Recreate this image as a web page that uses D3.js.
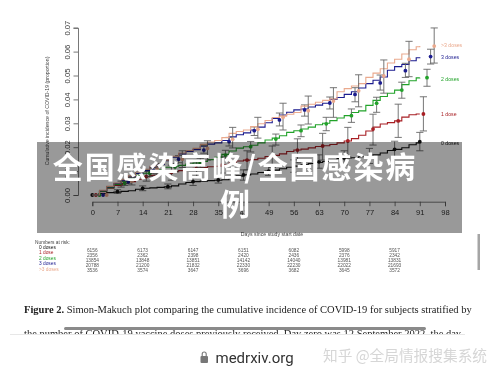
<!DOCTYPE html>
<html>
<head>
<meta charset="utf-8">
<script src="https://cdn.jsdelivr.net/npm/d3@7"></script>
<style>
  html, body { margin: 0; padding: 0; background: #fff; }
  svg { display: block; }
  .soft { filter: blur(0.65px); }
  .softer { filter: blur(0.4px); }
</style>
</head>
<body>
<div id="chart"></div>
<script>
// tick labels
const xTicks = [0, 7, 14, 21, 28, 35, 42, 49, 56, 63, 70, 77, 84, 91, 98];
const yTicks = [0, 0.01, 0.02, 0.03, 0.04, 0.05, 0.06, 0.07];

// series
const seriesNames = ["0 doses", "1 dose", "2 doses", "3 doses", ">3 doses"];
const seriesColors = ["#111111", "#a81f24", "#22a32a", "#1c1c8f", "#eaa98d"];
const labelValues = [0.0218, 0.0339, 0.0485, 0.0577, 0.0627];

// days where the step curves were read
const curveDays = [0, 2, 4, 6, 8, 10, 12, 14, 16, 18, 20, 22, 24, 26, 28, 30, 32, 34, 36, 38, 40, 42, 44, 46, 48, 50, 52, 54, 56, 58, 60, 62, 64, 66, 68, 70, 72, 74, 76, 78, 80, 82, 84, 86, 88, 90, 91];
const curve0 = [0, .0006, .001, .0012, .0015, .0018, .0024, .0028, .003, .0032, .0034, .0038, .0046, .0052, .0056, .0058, .006, .0062, .0064, .0072, .008, .0084, .0088, .0094, .01, .0104, .011, .0116, .0121, .0126, .0132, .0136, .014, .0146, .0152, .0155, .0156, .016, .0162, .0168, .0176, .0186, .0191, .0198, .021, .0218, .0222];
const curve1 = [0, .0014, .0028, .004, .0048, .0056, .0066, .0077, .0082, .0086, .0093, .0098, .0102, .0106, .0112, .0115, .0118, .012, .0126, .0134, .0142, .0146, .0148, .0154, .0161, .0166, .0172, .0182, .0188, .0192, .0197, .0203, .0206, .0211, .0218, .0226, .0236, .025, .0268, .0284, .0297, .0303, .031, .0326, .0336, .0339, .0339];
const curve2 = [0, .0016, .0031, .0044, .0056, .0068, .0082, .0091, .0098, .0106, .0116, .012, .0124, .013, .0134, .014, .0148, .0158, .017, .0184, .0196, .0202, .0208, .0218, .023, .0238, .0248, .0262, .0269, .0276, .0284, .0294, .03, .0311, .0322, .0332, .0345, .0352, .0375, .0396, .0412, .0426, .0439, .0462, .0478, .049, .0491];
const curve3 = [0, .0018, .0034, .0048, .0062, .0076, .009, .0102, .0116, .0128, .0144, .0158, .0172, .0182, .019, .0204, .0213, .0218, .0228, .0243, .0252, .026, .0272, .0284, .0302, .032, .0335, .0346, .0356, .036, .0368, .0376, .0384, .04, .0408, .0421, .0432, .0448, .0466, .048, .0494, .0522, .0537, .0546, .0562, .0574, .0576];
const curve4 = [0, .002, .0036, .005, .0066, .008, .0096, .0108, .012, .0132, .0146, .0162, .0176, .0186, .0195, .0212, .0222, .0228, .024, .0258, .0266, .0272, .0286, .0298, .0312, .0324, .033, .0338, .0345, .0372, .038, .0388, .0396, .0402, .0432, .0445, .0456, .0466, .0492, .051, .0528, .0552, .0568, .059, .0608, .062, .0623];

// weekly markers and their error bars
const markerDays = [0, 7, 14, 21, 28, 35, 42, 49, 56, 63, 70, 77, 84, 91];
const mark0 = [0, .0014, .0028, .0035, .0056, .0063, .0084, .01, .0121, .0139, .0155, .0163, .0191, .0223];
const low0 = [0, .0007, .0018, .0026, .004, .005, .0062, .0082, .0095, .0112, .0125, .0132, .0158, .0185];
const high0 = [0, .0022, .0038, .0046, .0072, .0078, .0105, .0125, .0147, .0168, .0185, .0195, .0225, .0262];
const mark1 = [0, .0045, .0077, .0095, .0112, .0125, .0146, .0163, .0188, .0205, .0226, .0276, .031, .0339];
const low1 = [0, .0033, .0058, .0062, .0078, .0092, .0105, .0115, .0135, .0146, .0159, .0209, .0241, .0268];
const high1 = [0, .0058, .0098, .0125, .0145, .016, .0185, .0205, .0235, .0258, .0283, .0338, .038, .0411];
const mark2 = [0, .0049, .0091, .0118, .0134, .0167, .0202, .0234, .0269, .0298, .0332, .0384, .0439, .0491];
const low2 = [0, .004, .0078, .0098, .0116, .0147, .018, .0209, .0244, .0269, .0304, .0346, .0405, .0455];
const high2 = [0, .0058, .0104, .0132, .0154, .0187, .0224, .0255, .0293, .0325, .036, .0409, .0472, .0526];
const mark3 = [0, .0055, .0102, .015, .0188, .0223, .0269, .0314, .0356, .0385, .0421, .0469, .052, .0579];
const low3 = [0, .0047, .0091, .0135, .0175, .0205, .0249, .0289, .033, .036, .039, .0439, .0492, .0548];
const high3 = [0, .0063, .0113, .0165, .0207, .0241, .0285, .0343, .0377, .041, .0449, .0502, .0551, .061];
const mark4 = [0, .0058, .0108, .015, .0195, .0233, .0275, .0325, .0353, .0393, .0436, .0498, .0568, .0623];
const low4 = [0, .0042, .0084, .0115, .0146, .0197, .0238, .0272, .0297, .0325, .0369, .0426, .0495, .0552];
const high4 = [0, .0074, .0132, .0185, .0227, .0283, .0325, .0384, .0414, .0449, .0503, .0565, .0643, .0699];

// numbers at risk table
const riskDays = [0, 14, 28, 42, 56, 70, 84];
const risk0 = ["6156", "6173", "6147", "6151", "6082", "5998", "5917"];
const risk1 = ["2356", "2362", "2398", "2420", "2436", "2376", "2342"];
const risk2 = ["13854", "13848", "13851", "14142", "14040", "13981", "13831"];
const risk3 = ["20788", "21200", "21832", "22330", "22230", "22022", "21693"];
const risk4 = ["3536", "3574", "3647", "3696", "3682", "3645", "3572"];

const curves = [curve0, curve1, curve2, curve3, curve4];
const marks = [mark0, mark1, mark2, mark3, mark4];
const lows = [low0, low1, low2, low3, low4];
const highs = [high0, high1, high2, high3, high4];
const risks = [risk0, risk1, risk2, risk3, risk4];

const sans = "'Liberation Sans', Arial, sans-serif";
const axisGray = "#555";

const svg = d3.select("#chart").append("svg")
  .attr("width", 500)
  .attr("height", 376)
  .attr("viewBox", "0 0 500 376");

svg.append("rect").attr("width", 500).attr("height", 376).attr("fill", "#fff");

const x = d3.scaleLinear().domain([0, 98]).range([92.3, 445]);
const y = d3.scaleLinear().domain([0, 0.07]).range([195, 27.7]);

const plot = svg.append("g").attr("class", "soft");

// axes
const gx = plot.append("g")
  .attr("transform", "translate(0, 201.7)")
  .call(d3.axisBottom(x).tickValues(xTicks).tickSize(4.5).tickPadding(3).tickFormat(d3.format("d")));
gx.selectAll("text").style("font-family", sans).style("font-size", "7.6px").attr("fill", "#333");
gx.selectAll("path, line").attr("stroke", axisGray).attr("stroke-width", 0.8);

const gy = plot.append("g")
  .attr("transform", "translate(78, 0)")
  .call(d3.axisLeft(y).tickValues(yTicks).tickSize(4.5).tickPadding(3).tickFormat(d3.format(".2f")));
gy.selectAll("text")
  .style("font-family", sans).style("font-size", "7.6px").attr("fill", "#333")
  .attr("text-anchor", "middle")
  .attr("dy", 0)
  .attr("x", 0)
  .attr("y", 0)
  .attr("transform", "translate(-8.5, 0) rotate(-90)");
gy.selectAll("path, line").attr("stroke", axisGray).attr("stroke-width", 0.8);

plot.append("text")
  .attr("transform", "translate(49, 111) rotate(-90)")
  .attr("text-anchor", "middle")
  .style("font-family", sans).style("font-size", "5.2px").attr("fill", "#444")
  .text("Cumulative incidence of COVID-19 (proportion)");

plot.append("text")
  .attr("x", 272).attr("y", 236)
  .attr("text-anchor", "middle")
  .style("font-family", sans).style("font-size", "5.2px").attr("fill", "#444")
  .text("Days since study start date");

// step curves, the markers sit one day further right per series
const line = d3.line().x(d => x(d[0])).y(d => y(d[1])).curve(d3.curveStepAfter);

seriesNames.forEach((name, i) => {
  const g = plot.append("g");

  g.append("path")
    .attr("d", line(curveDays.map((d, k) => [d, curves[i][k]])))
    .attr("fill", "none")
    .attr("stroke", seriesColors[i])
    .attr("stroke-width", 1.1);

  const pts = markerDays.map((d, k) => ({ day: d + i, v: marks[i][k], lo: lows[i][k], hi: highs[i][k] }));

  // day zero has no spread, so no bar there
  const bars = g.selectAll("g.bar").data(pts.filter(d => d.hi > d.lo)).join("g").attr("class", "bar");
  bars.append("line")
    .attr("x1", d => x(d.day)).attr("x2", d => x(d.day))
    .attr("y1", d => y(d.lo)).attr("y2", d => y(d.hi))
    .attr("stroke", "#666").attr("stroke-width", 0.9);
  bars.append("line")
    .attr("x1", d => x(d.day) - 3.6).attr("x2", d => x(d.day) + 3.6)
    .attr("y1", d => y(d.hi)).attr("y2", d => y(d.hi))
    .attr("stroke", "#666").attr("stroke-width", 0.9);
  bars.append("line")
    .attr("x1", d => x(d.day) - 3.6).attr("x2", d => x(d.day) + 3.6)
    .attr("y1", d => y(d.lo)).attr("y2", d => y(d.lo))
    .attr("stroke", "#666").attr("stroke-width", 0.9);

  g.selectAll("circle").data(pts).join("circle")
    .attr("cx", d => x(d.day))
    .attr("cy", d => y(d.v))
    .attr("r", 1.9)
    .attr("fill", seriesColors[i]);

  plot.append("text")
    .attr("x", 441).attr("y", y(labelValues[i]) + 1.8)
    .style("font-family", sans).style("font-size", "5.2px")
    .attr("fill", seriesColors[i])
    .text(name);
});

// numbers at risk
const table = svg.append("g").attr("class", "soft");
table.append("text")
  .attr("x", 35).attr("y", 243.5)
  .style("font-family", sans).style("font-size", "4.8px").attr("fill", "#444")
  .text("Numbers at risk:");

seriesNames.forEach((name, i) => {
  table.append("text")
    .attr("x", 39).attr("y", 249 + i * 5.4)
    .style("font-family", sans).style("font-size", "4.8px")
    .attr("fill", seriesColors[i])
    .text(name);
  table.selectAll("text.r" + i).data(risks[i]).join("text")
    .attr("class", "r" + i)
    .attr("x", (d, k) => x(riskDays[k]))
    .attr("y", 251.6 + i * 5.2)
    .attr("text-anchor", "middle")
    .style("font-family", sans).style("font-size", "4.8px").attr("fill", "#555")
    .text(d => d);
});

// caption
const caption = svg.append("g").attr("class", "softer");
const cap1 = caption.append("text")
  .attr("x", 24).attr("y", 313)
  .style("font-family", "'Liberation Serif', serif").style("font-size", "10.5px").attr("fill", "#222");
cap1.append("tspan").style("font-weight", "700").text("Figure 2.");
cap1.append("tspan").text(" Simon-Makuch plot comparing the cumulative incidence of COVID-19 for subjects stratified by");
caption.append("text")
  .attr("x", 24).attr("y", 337)
  .style("font-family", "'Liberation Serif', serif").style("font-size", "10.5px").attr("fill", "#222")
  .text("the number of COVID-19 vaccine doses previously received. Day zero was 12 September 2022, the day");

// browser bar at the bottom
svg.append("rect").attr("x", 0).attr("y", 334).attr("width", 500).attr("height", 42).attr("fill", "#fff");
svg.append("rect").attr("x", 10).attr("y", 334).attr("width", 455).attr("height", 0.7).attr("fill", "#ddd");
svg.append("rect").attr("x", 64).attr("y", 327).attr("width", 362).attr("height", 3).attr("rx", 1.5)
  .attr("fill", "#8a8a8a").attr("class", "softer");
svg.append("rect").attr("x", 477.5).attr("y", 234).attr("width", 2.5).attr("height", 36).attr("fill", "#a5a5a5");

const lock = svg.append("g").attr("class", "softer");
lock.append("rect").attr("x", 200.5).attr("y", 356).attr("width", 7.5).attr("height", 7).attr("rx", 1).attr("fill", "#777");
lock.append("path")
  .attr("d", "M202.2 356v-2a2 2 0 0 1 4 0v2")
  .attr("fill", "none").attr("stroke", "#777").attr("stroke-width", 1.1);

svg.append("text")
  .attr("x", 215.5).attr("y", 363)
  .attr("class", "softer")
  .style("font-family", "Roboto, sans-serif").style("font-size", "15px")
  .attr("fill", "#333")
  .text("medrxiv.org");

svg.append("text")
  .attr("x", 323).attr("y", 361)
  .attr("class", "softer")
  .style("font-family", "'Noto Sans CJK SC', sans-serif").style("font-size", "14.7px")
  .attr("fill", "#d6d6d6")
  .text("知乎 @全局情报搜集系统");

// banner on top of the chart
svg.append("rect")
  .attr("x", 37).attr("y", 142).attr("width", 425).attr("height", 91)
  .attr("fill", "#000").attr("fill-opacity", 0.4);

const title = svg.append("g").attr("class", "softer");
title.append("text")
  .attr("x", 235).attr("y", 178)
  .attr("text-anchor", "middle")
  .style("font-family", "'Noto Sans CJK SC', sans-serif")
  .style("font-size", "30px").style("font-weight", "700")
  .style("letter-spacing", "1.9px")
  .attr("fill", "#fff")
  .text("全国感染高峰/全国感染病");
title.append("text")
  .attr("x", 235).attr("y", 214.5)
  .attr("text-anchor", "middle")
  .style("font-family", "'Noto Sans CJK SC', sans-serif")
  .style("font-size", "30px").style("font-weight", "700")
  .attr("fill", "#fff")
  .text("例");
</script>
</body>
</html>
